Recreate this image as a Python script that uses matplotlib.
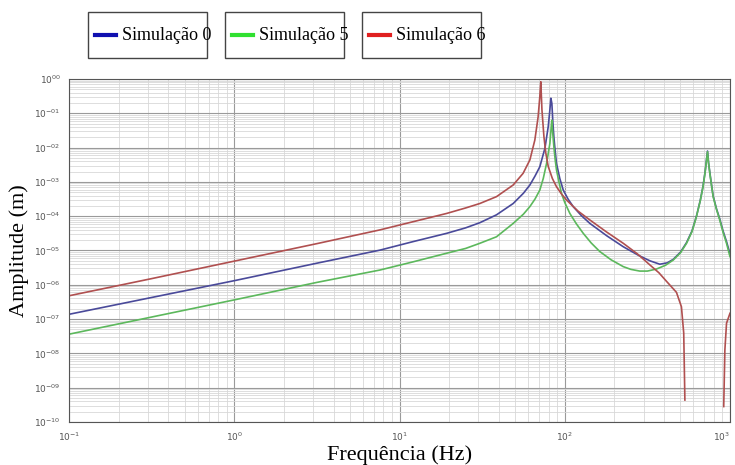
import numpy as np
import matplotlib
matplotlib.use("Agg")
import matplotlib.pyplot as plt
from matplotlib.lines import Line2D
from matplotlib.patches import Rectangle
from matplotlib.ticker import LogLocator, NullFormatter

# valores (log10 da frequencia, log10 da amplitude)
sim0_logf = [-1.0, 0.0, 0.5, 0.881, 1.083, 1.285, 1.40, 1.486, 1.587, 1.688, 1.75, 1.789, 1.820,
             1.849, 1.880, 1.900, 1.910, 1.916, 1.922, 1.928, 1.934, 1.942, 1.950, 1.970, 1.991,
             2.020, 2.051, 2.100, 2.152, 2.254, 2.354, 2.45, 2.515, 2.575, 2.620, 2.656, 2.700,
             2.737, 2.770, 2.797, 2.820, 2.837, 2.850, 2.858, 2.864, 2.870, 2.878, 2.888, 2.898,
             2.918, 2.938, 2.958, 2.979, 3.0]
sim0_logA = [-6.86, -5.88, -5.37, -4.99, -4.74, -4.50, -4.34, -4.19, -3.96, -3.63, -3.33, -3.09, -2.83,
             -2.56, -2.02, -1.39, -0.90, -0.56, -0.71, -1.25, -1.68, -2.10, -2.46, -2.90, -3.24,
             -3.50, -3.72, -3.98, -4.21, -4.57, -4.89, -5.15, -5.30, -5.40, -5.36, -5.26, -5.05,
             -4.77, -4.43, -4.00, -3.54, -3.12, -2.68, -2.34, -2.10, -2.43, -2.73, -3.08, -3.41,
             -3.78, -4.08, -4.43, -4.74, -5.10]

sim5_logf = [-1.0, 0.0, 0.5, 0.881, 1.083, 1.285, 1.40, 1.486, 1.587, 1.688, 1.75, 1.789, 1.820,
             1.849, 1.870, 1.890, 1.910, 1.920, 1.922, 1.926, 1.934, 1.942, 1.950, 1.965, 1.980,
             2.000, 2.031, 2.070, 2.112, 2.160, 2.212, 2.280, 2.354, 2.400, 2.454, 2.500, 2.555,
             2.610, 2.656, 2.700, 2.737, 2.770, 2.797, 2.820, 2.837, 2.850, 2.858, 2.864, 2.870,
             2.878, 2.888, 2.898, 2.918, 2.938, 2.958, 2.979, 3.0]
sim5_logA = [-7.44, -6.44, -5.93, -5.57, -5.33, -5.08, -4.94, -4.79, -4.60, -4.21, -3.94, -3.72, -3.50,
             -3.24, -2.90, -2.46, -1.88, -1.29, -1.20, -1.50, -1.97, -2.35, -2.65, -3.00, -3.33,
             -3.60, -3.92, -4.22, -4.50, -4.78, -5.03, -5.27, -5.47, -5.55, -5.60, -5.60, -5.54,
             -5.43, -5.28, -5.07, -4.79, -4.45, -4.01, -3.55, -3.14, -2.70, -2.36, -2.12, -2.45,
             -2.75, -3.10, -3.43, -3.80, -4.11, -4.47, -4.79, -5.18]

sim6_logf = [-1.0, -0.5, 0.0, 0.5, 0.881, 1.083, 1.285, 1.40, 1.486, 1.587, 1.688, 1.748, 1.789,
             1.819, 1.839, 1.849, 1.855, 1.862, 1.874, 1.885, 1.900, 1.925, 1.950, 1.980, 2.011,
             2.080, 2.152, 2.250, 2.354, 2.440, 2.515, 2.570, 2.616, 2.676, 2.706, 2.720, 2.727,
             np.nan, 2.962, 2.969, 2.979, 3.0]
sim6_logA = [-6.32, -5.82, -5.31, -4.80, -4.40, -4.16, -3.92, -3.76, -3.63, -3.43, -3.09, -2.75, -2.36,
             -1.78, -1.10, -0.52, -0.08, -0.90, -1.68, -2.15, -2.55, -2.90, -3.14, -3.35, -3.53,
             -3.85, -4.11, -4.45, -4.79, -5.10, -5.42, -5.65, -5.90, -6.22, -6.64, -7.41, -9.36,
             np.nan, -9.55, -7.90, -7.12, -6.83]

labels = ["Simulação 0", "Simulação 5", "Simulação 6"]
legend_colors = ["#1010b0", "#30e030", "#e02020"]
line_colors = ["#4a4a9a", "#5cb85c", "#b05050"]

W, H = 735, 465
fig = plt.figure(figsize=(W / 100, H / 100), dpi=100)
ax = fig.add_axes([69 / W, 1 - 422 / H, 661 / W, 343 / H])

series = [(sim0_logf, sim0_logA), (sim5_logf, sim5_logA), (sim6_logf, sim6_logA)]
for (lf, la), c in zip(series, line_colors):
    ax.plot(10 ** np.array(lf), 10 ** np.array(la), color=c, lw=1.2)

ax.set_xscale("log")
ax.set_yscale("log")
ax.set_xlim(1e-1, 1e3)
ax.set_ylim(1e-10, 1e0)

ax.xaxis.set_minor_locator(LogLocator(base=10, subs=np.arange(2, 10), numticks=20))
ax.xaxis.set_minor_formatter(NullFormatter())
ax.yaxis.set_minor_locator(LogLocator(base=10, subs=np.arange(2, 10), numticks=40))
ax.yaxis.set_minor_formatter(NullFormatter())

xt = [1e-1, 1e0, 1e1, 1e2, 1e3]
ax.set_xticks(xt)
ax.set_xticklabels([r"$10^{%d}$" % e for e in range(-1, 4)])
ax.get_xticklabels()[-1].set_horizontalalignment("right")
yt = [10.0 ** e for e in range(-10, 1)]
ax.set_yticks(yt)
ax.set_yticklabels([r"$10^{%s}$" % ("00" if e == 0 else "-%02d" % (-e)) for e in range(-10, 1)])

ax.tick_params(axis="both", which="both", length=0, labelsize=6.5, labelcolor="#555555", pad=6)
ax.grid(True, which="major", color="#9a9a9a", lw=0.8)
ax.grid(True, which="minor", color="#d8d8d8", lw=0.6)
ax.set_axisbelow(True)
for s in ax.spines.values():
    s.set_color("#555555")
    s.set_linewidth(0.8)

ax.set_xlabel("Frequência (Hz)", family="Liberation Serif", fontsize=16, labelpad=2)
ax.set_ylabel("Amplitude (m)", family="Liberation Serif", fontsize=16, labelpad=4)

# tres caixas de legenda separadas, desenhadas a mao
box_left = [88, 225, 362]
for lab, c, x0 in zip(labels, legend_colors, box_left):
    fig.patches.append(Rectangle((x0 / W, 1 - 58 / H), 119 / W, 46 / H, transform=fig.transFigure,
                                 facecolor="white", edgecolor="#444444", lw=1.0))
    yc = 1 - 35 / H
    fig.lines.append(Line2D([(x0 + 7) / W, (x0 + 28) / W], [yc, yc], transform=fig.transFigure,
                            color=c, lw=3))
    fig.text((x0 + 34) / W, yc, lab, family="Liberation Serif", fontsize=13,
             ha="left", va="center")

fig.savefig("out.png", dpi=100)
